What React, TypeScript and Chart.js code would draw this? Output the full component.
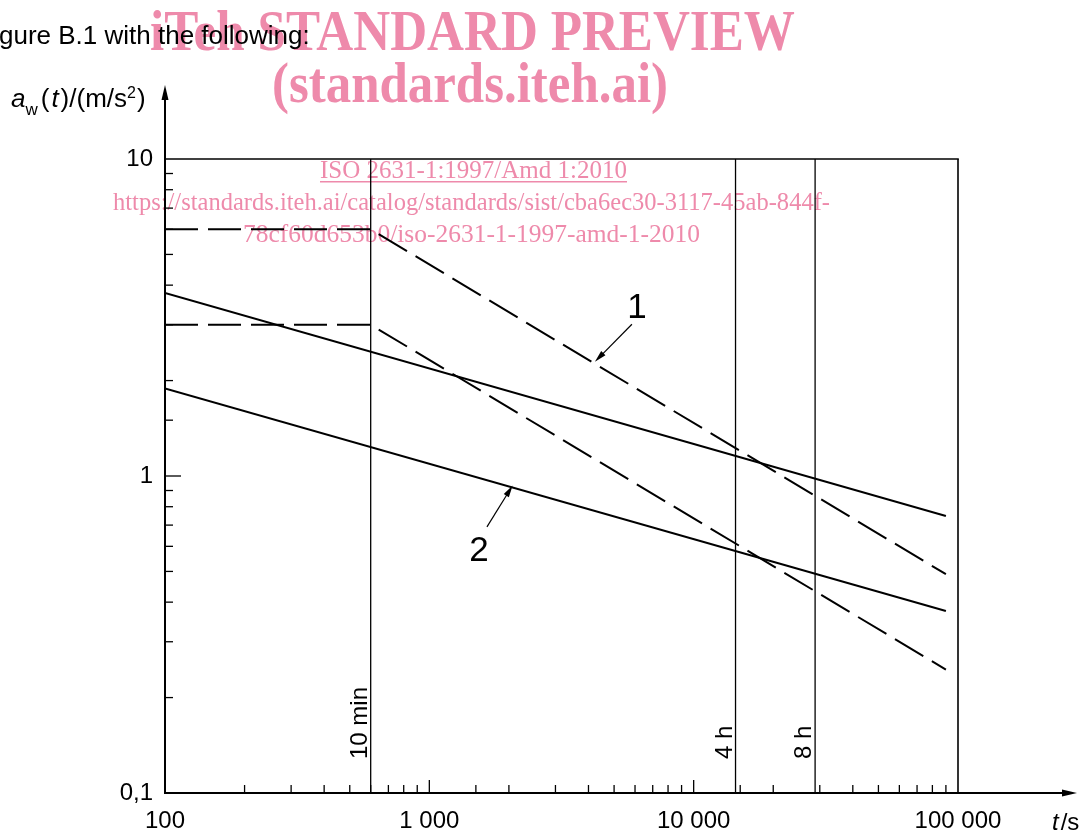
import React, { useEffect, useRef } from 'react';
import { Chart, registerables } from 'chart.js';

Chart.register(...registerables);

// ---- axis ranges & tick labels ----
const timeMin = 100;
const timeMax = 100000;
const accMin = 0.1;
const accMax = 10;
const xTickValues = [100, 1000, 10000, 100000];
const xTickLabels = ['100', '1 000', '10 000', '100 000'];
const yTickValues = [0.1, 1, 10];
const yTickLabels = ['0,1', '1', '10'];

// ---- zone boundaries: t in s, a_w in m/s² ----
const upperDashedT = [100, 600, 90000];
const upperDashedA = [6, 6, 0.49];
const lowerDashedT = [100, 600, 90000];
const lowerDashedA = [3, 3, 0.245];
const upperSolidT = [100, 90000];
const upperSolidA = [3.78, 0.748];
const lowerSolidT = [100, 90000];
const lowerSolidA = [1.89, 0.375];

// ---- reference durations ----
const refTimes = [600, 14400, 28800];
const refLabels = ['10 min', '4 h', '8 h'];
const refLabelA = 0.128;

// ---- callouts ----
const calloutLabels = ['1', '2'];
const calloutTextT = [6100, 1540];
const calloutTextA = [3.16, 0.54];
const calloutTailT = [5840, 1652];
const calloutTailA = [3.01, 0.691];
const calloutTipT = [4230, 2066];
const calloutTipA = [2.26, 0.92];

// ---- texts ----
const headerText = 'gure B.1 with the following:';
const xTitleItalic = 't';
const xTitleRest = '/s';
const wmTitle = 'iTeh STANDARD PREVIEW';
const wmSite = '(standards.iteh.ai)';
const wmIso = 'ISO 2631-1:1997/Amd 1:2010';
const wmUrl1 = 'https://standards.iteh.ai/catalog/standards/sist/cba6ec30-3117-45ab-844f-';
const wmUrl2 = '78cf60d653b0/iso-2631-1-1997-amd-1-2010';

const SANS = '"Liberation Sans", Arial, sans-serif';
const SERIF = '"Liberation Serif", "Times New Roman", serif';
const PINK = '#ee8aab';

function pts(ts: number[], as: number[]) {
  return ts.map((t, i) => ({ x: t, y: as[i] }));
}

function isDecade(v: number) {
  const l = Math.log10(v);
  return Math.abs(l - Math.round(l)) < 1e-6;
}

function labelFor(vals: number[], labels: string[]) {
  return (v: any) => {
    const n = Number(v);
    const i = vals.findIndex((tv) => Math.abs(Math.log10(tv) - Math.log10(n)) < 1e-6);
    return i >= 0 ? labels[i] : '';
  };
}

function arrowHead(ctx: CanvasRenderingContext2D, x0: number, y0: number, x1: number, y1: number, len: number, half: number) {
  const ang = Math.atan2(y1 - y0, x1 - x0);
  const bx = x1 - len * Math.cos(ang);
  const by = y1 - len * Math.sin(ang);
  const nx = -Math.sin(ang) * half;
  const ny = Math.cos(ang) * half;
  ctx.beginPath();
  ctx.moveTo(x1, y1);
  ctx.lineTo(bx + nx, by + ny);
  ctx.lineTo(bx - nx, by - ny);
  ctx.closePath();
  ctx.fill();
}

function line(ctx: CanvasRenderingContext2D, x0: number, y0: number, x1: number, y1: number) {
  ctx.beginPath();
  ctx.moveTo(x0, y0);
  ctx.lineTo(x1, y1);
  ctx.stroke();
}

export default function App() {
  const ref = useRef<HTMLCanvasElement>(null);

  useEffect(() => {
    document.body.style.margin = '0';
    document.body.style.overflow = 'hidden';
    const canvas = ref.current!;

    const curve = (ts: number[], as: number[], dashed: boolean) => ({
      data: pts(ts, as),
      borderColor: '#000',
      borderWidth: 2,
      borderDash: dashed ? [33, 10] : [],
      borderCapStyle: 'butt' as const,
      pointRadius: 0,
      fill: false,
      tension: 0,
    });

    const refSets = refTimes.map((t) => ({
      data: [
        { x: t, y: accMin },
        { x: t, y: accMax },
      ],
      borderColor: '#000',
      borderWidth: 1.3,
      pointRadius: 0,
      fill: false,
      tension: 0,
    }));

    const decor = {
      id: 'decor',
      beforeDraw(chart: any) {
        const ctx: CanvasRenderingContext2D = chart.ctx;
        ctx.save();
        ctx.fillStyle = '#fff';
        ctx.fillRect(0, 0, chart.width, chart.height);
        ctx.fillStyle = PINK;
        ctx.textAlign = 'left';
        ctx.textBaseline = 'alphabetic';
        ctx.font = `bold 56px ${SERIF}`;
        ctx.fillText(wmTitle, 150, 50, 645);
        ctx.fillText(wmSite, 272, 102, 396);
        ctx.font = `26px ${SERIF}`;
        ctx.fillText(wmIso, 320, 178, 307);
        ctx.fillRect(320, 181, 307, 1.5);
        ctx.fillText(wmUrl1, 113, 210, 717);
        ctx.fillText(wmUrl2, 243, 242, 457);
        ctx.restore();
      },
      afterDatasetsDraw(chart: any) {
        const ctx: CanvasRenderingContext2D = chart.ctx;
        const xs = chart.scales.x;
        const ys = chart.scales.y;
        const L = xs.getPixelForValue(timeMin);
        const R = xs.getPixelForValue(timeMax);
        const B = ys.getPixelForValue(accMin);
        const T = ys.getPixelForValue(accMax);
        ctx.save();
        ctx.strokeStyle = '#000';
        ctx.fillStyle = '#000';

        // frame (top, right)
        ctx.lineWidth = 1.6;
        line(ctx, L, T, R + 0.8, T);
        line(ctx, R, T, R, B);

        // ticks (inward)
        ctx.lineWidth = 1.3;
        xs.ticks.forEach((tk: any) => {
          const v = tk.value;
          if (v <= timeMin * 1.0001 || v >= timeMax * 0.9999) return;
          const px = xs.getPixelForValue(v);
          line(ctx, px, B, px, B - (isDecade(v) ? 13 : 8));
        });
        ys.ticks.forEach((tk: any) => {
          const v = tk.value;
          if (v <= accMin * 1.0001 || v >= accMax * 0.9999) return;
          const py = ys.getPixelForValue(v);
          line(ctx, L, py, L + (isDecade(v) ? 16 : 8), py);
        });

        // axes with arrows
        ctx.lineWidth = 2;
        line(ctx, L, B + 1, L, 96);
        arrowHead(ctx, L, B, L, 85, 15, 3.5);
        line(ctx, L - 1, B, 1066, B);
        arrowHead(ctx, L, B, 1077, B, 15, 3.5);

        // reference labels (rotated)
        ctx.font = `24px ${SANS}`;
        ctx.textAlign = 'left';
        ctx.textBaseline = 'alphabetic';
        refTimes.forEach((t, i) => {
          const px = xs.getPixelForValue(t) - 4;
          const py = ys.getPixelForValue(refLabelA);
          ctx.save();
          ctx.translate(px, py);
          ctx.rotate(-Math.PI / 2);
          ctx.fillText(refLabels[i], 0, 0);
          ctx.restore();
        });

        // callouts
        ctx.lineWidth = 1.2;
        calloutLabels.forEach((lab, i) => {
          const tx = xs.getPixelForValue(calloutTailT[i]);
          const ty = ys.getPixelForValue(calloutTailA[i]);
          const hx = xs.getPixelForValue(calloutTipT[i]);
          const hy = ys.getPixelForValue(calloutTipA[i]) - 2;
          const ang = Math.atan2(hy - ty, hx - tx);
          line(ctx, tx, ty, hx - 8 * Math.cos(ang), hy - 8 * Math.sin(ang));
          arrowHead(ctx, tx, ty, hx, hy, 12, 3);
          ctx.font = `35px ${SANS}`;
          ctx.textAlign = 'center';
          ctx.fillText(lab, xs.getPixelForValue(calloutTextT[i]), ys.getPixelForValue(calloutTextA[i]));
        });

        // y-axis title a_w(t)/(m/s²)
        ctx.textAlign = 'left';
        let x = 11;
        const by = 107;
        const put = (s: string, font: string, dy = 0, gap = 0) => {
          ctx.font = font;
          ctx.fillText(s, x, by + dy);
          x += ctx.measureText(s).width + gap;
        };
        put('a', `italic 26px ${SANS}`, 0, 0);
        put('w', `17px ${SANS}`, 8, 3);
        put('(', `26px ${SANS}`, 0, 2);
        put('t', `italic 26px ${SANS}`, 0, 2);
        put(')/(m/s', `26px ${SANS}`, 0, 0);
        put('2', `16px ${SANS}`, -9, 1);
        put(')', `26px ${SANS}`, 0, 0);

        // x-axis title t/s
        x = 1052;
        const bx = 830;
        ctx.font = `italic 24px ${SANS}`;
        ctx.fillText(xTitleItalic, x, bx);
        x += ctx.measureText(xTitleItalic).width + 2;
        ctx.font = `24px ${SANS}`;
        ctx.fillText(xTitleRest, x, bx);

        // header text
        ctx.font = `26px ${SANS}`;
        ctx.fillText(headerText, -1, 44, 315);

        ctx.restore();
      },
    };

    const chart = new Chart(canvas, {
      type: 'line',
      data: {
        datasets: [
          curve(upperDashedT, upperDashedA, true),
          curve(lowerDashedT, lowerDashedA, true),
          curve(upperSolidT, upperSolidA, false),
          curve(lowerSolidT, lowerSolidA, false),
          ...refSets,
        ] as any,
      },
      options: {
        animation: false,
        responsive: false,
        events: [],
        layout: { padding: { left: 0, top: 159, right: 133, bottom: 0 } },
        plugins: { legend: { display: false }, tooltip: { enabled: false } },
        scales: {
          x: {
            type: 'logarithmic',
            min: timeMin,
            max: timeMax,
            grid: { display: false, drawTicks: false },
            border: { display: false },
            afterFit: (s: any) => {
              s.height = 43;
            },
            ticks: {
              autoSkip: false,
              maxRotation: 0,
              minRotation: 0,
              padding: 14,
              color: '#000',
              font: { family: 'Liberation Sans', size: 24 },
              callback: labelFor(xTickValues, xTickLabels),
            },
          },
          y: {
            type: 'logarithmic',
            min: accMin,
            max: accMax,
            grid: { display: false, drawTicks: false },
            border: { display: false },
            afterFit: (s: any) => {
              s.width = 165;
            },
            ticks: {
              autoSkip: false,
              padding: 12,
              color: '#000',
              font: { family: 'Liberation Sans', size: 24 },
              callback: labelFor(yTickValues, yTickLabels),
            },
          },
        },
      } as any,
      plugins: [decor],
    });

    return () => chart.destroy();
  }, []);

  return (
    <div style={{ position: 'absolute', left: 0, top: 0, width: 1091, height: 836 }}>
      <canvas ref={ref} width={1091} height={836} />
    </div>
  );
}
